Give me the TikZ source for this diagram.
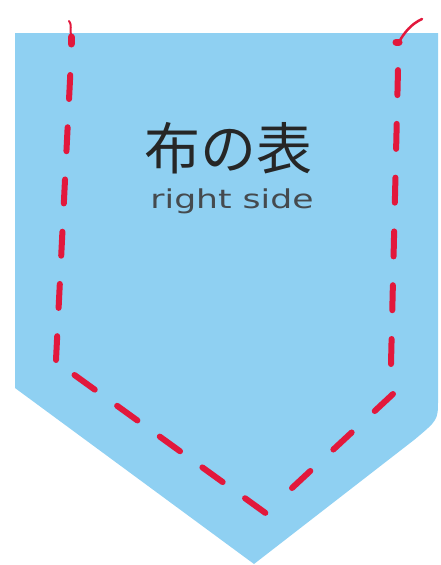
\documentclass[tikz,border=0pt]{standalone}
\usepackage{fontspec}
\newfontfamily\cjk{Noto Sans CJK JP}
\newfontfamily\labelsans{DejaVu Sans}
\definecolor{cloth}{HTML}{8FD0F2}
\definecolor{thread}{HTML}{E2183C}
\definecolor{ink}{HTML}{262626}
\definecolor{subink}{HTML}{454A4E}
\tikzset{
  fabric/.style={fill=cloth, draw=none},
  stitch/.style={draw=thread, line width=6pt, line cap=round},
  threadend/.style={draw=thread, line width=2pt, line cap=round},
  titletext/.style={inner sep=0pt, text=ink, font=\cjk\fontsize{56}{60}\selectfont},
  subtext/.style={inner sep=0pt, text=subink, font=\labelsans\fontsize{26}{30}\selectfont},
}
\begin{document}
\begin{tikzpicture}[x=1pt,y=-1pt]
\useasboundingbox (0,0) rectangle (440,565);
% fabric piece
\fill[fabric] (15,33) -- (438,33) -- (438,400) .. controls (438,420) .. (414,440)
  -- (254,564) -- (15,388) -- cycle;
% stitch line corners
\coordinate (lt) at (70.25,75);
\coordinate (lb) at (56,360);
\coordinate (ds) at (74.5,375);
\coordinate (de) at (265.5,513);
\coordinate (us) at (292,488);
\coordinate (ue) at (393,394);
\coordinate (rb) at (391,364);
\coordinate (rt) at (398,70);
% stitches
\draw[stitch, dash pattern=on 24pt off 28.3pt] (lt) -- (lb);
\draw[stitch, dash pattern=on 25pt off 27.6pt] (ds) -- (de);
\draw[stitch, dash pattern=on 25pt off 31.5pt] (us) -- (ue);
\draw[stitch, dash pattern=on 25pt off 28.8pt] (rb) -- (rt);
% thread ends
\coordinate (lk) at (71,37);
\coordinate (lk2) at (71,44);
\coordinate (lf) at (69,21);
\draw[stitch, line width=7pt] (lk) -- (lk2);
\draw[threadend] (lf) .. controls (72,24) and (70,30) .. (lk);
\coordinate (rk) at (396,42);
\coordinate (rk2) at (399,42);
\coordinate (rf) at (422,19);
\draw[stitch, line width=7pt] (rk) -- (rk2);
\draw[threadend, line width=2.5pt] (rk2) .. controls (404,33) and (411,24) .. (rf);
% labels
\node[titletext] (jp) at (228,148) {布の表};
\node[subtext, anchor=base] (en) at (232,208) {\scalebox{1.33}[1]{right side}};
\end{tikzpicture}
\end{document}
